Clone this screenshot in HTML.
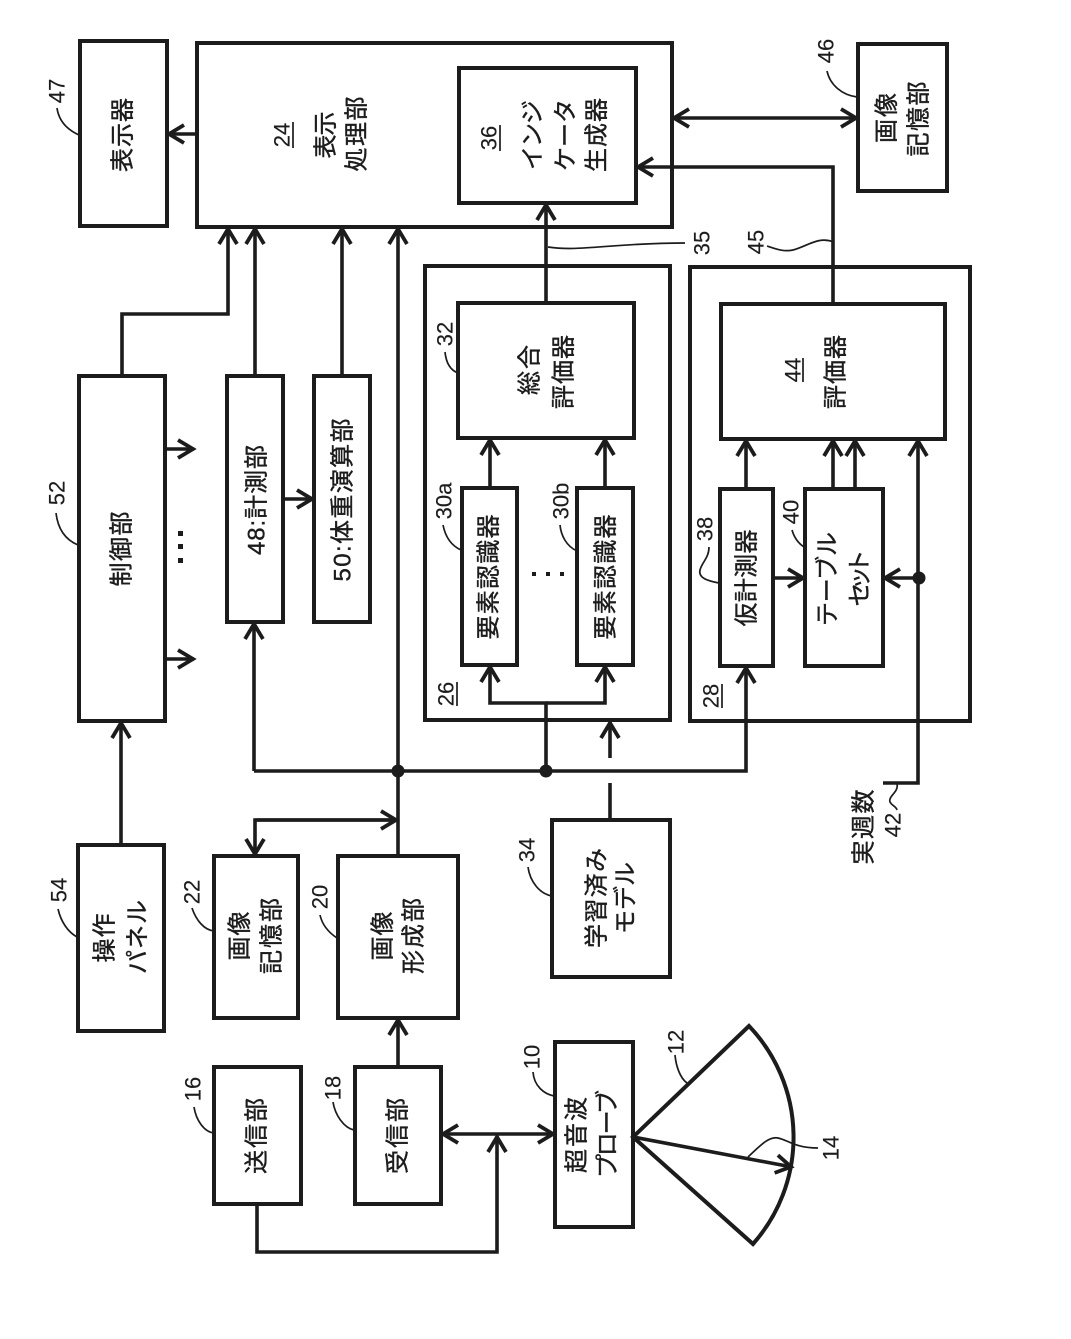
<!DOCTYPE html>
<html lang="ja"><head><meta charset="utf-8"><title>Diagram</title>
<style>
html,body{margin:0;padding:0;background:#fff}
svg{display:block}
text{font-family:"Liberation Sans","Noto Sans CJK JP",sans-serif;fill:#1c1c1c;text-anchor:middle;dominant-baseline:central}
.j{font-size:24px;stroke:#1c1c1c;stroke-width:.4}
.n{font-size:22px;stroke:#1c1c1c;stroke-width:.15}
.b{fill:#fff;stroke:#1c1c1c;stroke-width:4}
.l{fill:none;stroke:#1c1c1c;stroke-width:3.6}
.t{fill:none;stroke:#1c1c1c;stroke-width:1.7}
</style></head>
<body>
<svg width="1071" height="1339" viewBox="0 0 1071 1339" xmlns="http://www.w3.org/2000/svg">
<defs>
<marker id="a" markerUnits="userSpaceOnUse" markerWidth="24" markerHeight="26" refX="20" refY="13" orient="auto-start-reverse"><path d="M4 4 L19 13 L4 22" fill="none" stroke="#1c1c1c" stroke-width="3.8"/></marker>
</defs>
<rect width="1071" height="1339" fill="#fff"/>

<!-- boxes -->
<rect class="b" x="80" y="41" width="87" height="185"/>
<rect class="b" x="197" y="43" width="475" height="184"/>
<rect class="b" x="459" y="68" width="177" height="135"/>
<rect class="b" x="858" y="44" width="89" height="147"/>
<rect class="b" x="425" y="266" width="245" height="454"/>
<rect class="b" x="690" y="267" width="280" height="454"/>
<rect class="b" x="458" y="303" width="176" height="135"/>
<rect class="b" x="721" y="304" width="224" height="135"/>
<rect class="b" x="462" y="488" width="55" height="177"/>
<rect class="b" x="577" y="488" width="56" height="177"/>
<rect class="b" x="720" y="489" width="53" height="177"/>
<rect class="b" x="805" y="489" width="78" height="177"/>
<rect class="b" x="79" y="376" width="86" height="345"/>
<rect class="b" x="227" y="376" width="56" height="246"/>
<rect class="b" x="314" y="376" width="56" height="246"/>
<rect class="b" x="78" y="845" width="86" height="186"/>
<rect class="b" x="214" y="856" width="84" height="162"/>
<rect class="b" x="338" y="856" width="120" height="162"/>
<rect class="b" x="552" y="820" width="118" height="157"/>
<rect class="b" x="214" y="1067" width="87" height="137"/>
<rect class="b" x="355" y="1067" width="86" height="137"/>
<rect class="b" x="555" y="1042" width="78" height="185"/>

<!-- connectors -->
<path class="l" d="M197 134H168" marker-end="url(#a)"/>
<path class="l" d="M122 376V314H228V228" marker-end="url(#a)"/>
<path class="l" d="M255 376V228" marker-end="url(#a)"/>
<path class="l" d="M342 376V228" marker-end="url(#a)"/>
<path class="l" d="M398 856V228" marker-end="url(#a)"/>
<path class="l" d="M546 303V204" marker-end="url(#a)"/>
<path class="l" d="M833 304V167H637" marker-end="url(#a)"/>
<path class="l" d="M673 118H857" marker-start="url(#a)" marker-end="url(#a)"/>
<path class="l" d="M165 449H194" marker-end="url(#a)"/>
<path class="l" d="M165 659H194" marker-end="url(#a)"/>
<path class="l" d="M283 499H313" marker-end="url(#a)"/>
<path class="l" d="M121 845V722" marker-end="url(#a)"/>
<path class="l" d="M254 771V623" marker-end="url(#a)"/>
<path class="l" d="M254 771H746V667" marker-end="url(#a)"/>
<path class="l" d="M546 771V703H490V666" marker-end="url(#a)"/>
<path class="l" d="M546 703H605V666" marker-end="url(#a)"/>
<path class="l" d="M610 820V783"/>
<path class="l" d="M610 758V722" marker-end="url(#a)"/>
<path class="l" d="M490 488V439" marker-end="url(#a)"/>
<path class="l" d="M605 488V439" marker-end="url(#a)"/>
<path class="l" d="M746 489V440" marker-end="url(#a)"/>
<path class="l" d="M833 489V440" marker-end="url(#a)"/>
<path class="l" d="M855 489V440" marker-end="url(#a)"/>
<path class="l" d="M883 783H918V440" marker-end="url(#a)"/>
<path class="l" d="M918 578H884" marker-end="url(#a)"/>
<path class="l" d="M773 578H804" marker-end="url(#a)"/>
<path class="l" d="M397 820H255V855" marker-end="url(#a)"/>
<path class="l" d="M255 820H397" marker-end="url(#a)"/>
<path class="l" d="M398 1067V1019" marker-end="url(#a)"/>
<path class="l" d="M442 1134H554" marker-start="url(#a)" marker-end="url(#a)"/>
<path class="l" d="M257 1204V1252H497V1136" marker-end="url(#a)"/>
<circle cx="398" cy="771" r="6.5" fill="#1c1c1c"/>
<circle cx="546" cy="771" r="6.5" fill="#1c1c1c"/>
<circle cx="919" cy="578" r="6.5" fill="#1c1c1c"/>
<rect x="178" y="531" width="5" height="5" fill="#1c1c1c"/><rect x="178" y="544" width="5" height="5" fill="#1c1c1c"/><rect x="178" y="558" width="5" height="5" fill="#1c1c1c"/>
<rect x="532" y="572" width="4" height="4" fill="#1c1c1c"/><rect x="546" y="572" width="4" height="4" fill="#1c1c1c"/><rect x="560" y="572" width="4" height="4" fill="#1c1c1c"/>

<!-- sector -->
<path d="M749 1026L633 1137L753 1244A161 161 0 0 0 749 1026Z" fill="none" stroke="#1c1c1c" stroke-width="4"/>
<path class="l" d="M633 1137L792 1167" stroke-width="4.4" marker-end="url(#a)"/>

<!-- leaders -->
<g class="t">
<path class="t" d="M79 135C68 130 59 122 57 108"/>
<path class="t" d="M78 545C66 540 58 530 56 513"/>
<path class="t" d="M77 937C68 932 61 922 58 909"/>
<path class="t" d="M214 931C204 930 196 920 192 908"/>
<path class="t" d="M337 938C328 932 322 924 320 915"/>
<path class="t" d="M214 1133C204 1132 196 1120 194 1107"/>
<path class="t" d="M354 1130C344 1128 335 1115 333 1102"/>
<path class="t" d="M552 896C540 894 530 882 528 867"/>
<path class="t" d="M554 1096C544 1094 534 1086 533 1072"/>
<path class="t" d="M687 1083C680 1078 676 1066 675 1055"/>
<path class="t" d="M748 1157C758 1148 768 1136 778 1138C788 1140 795 1148 818 1148"/>
<path class="t" d="M548 247C580 252 610 243 685 243"/>
<path class="t" d="M834 242C818 236 808 246 793 250C784 252 776 249 767 246"/>
<path class="t" d="M857 97C842 95 830 85 827 71"/>
<path class="t" d="M458 373C450 370 446 362 445 352"/>
<path class="t" d="M461 550C450 545 445 535 443 525"/>
<path class="t" d="M577 551C566 546 561 535 560 525"/>
<path class="t" d="M719 583C708 581 698 578 700 570C702 562 709 558 709 547"/>
<path class="t" d="M804 547C798 543 794 537 792 530"/>
<path class="t" d="M897 784C899 792 888 796 890 802C892 806 896 806 897 810"/>
</g>

<!-- numbers -->
<g>
<text class="n" transform="translate(57,91) rotate(-90)">47</text>
<text class="n" transform="translate(282,135) rotate(-90)">24</text>
<text class="n" transform="translate(489,138) rotate(-90)">36</text>
<text class="n" transform="translate(826,51) rotate(-90)">46</text>
<text class="n" transform="translate(702,243) rotate(-90)">35</text>
<text class="n" transform="translate(756,242) rotate(-90)">45</text>
<text class="n" transform="translate(445,334) rotate(-90)">32</text>
<text class="n" transform="translate(793,370) rotate(-90)">44</text>
<text class="n" transform="translate(444,501) rotate(-90)">30a</text>
<text class="n" transform="translate(561,501) rotate(-90)">30b</text>
<text class="n" transform="translate(705,529) rotate(-90)">38</text>
<text class="n" transform="translate(791,512) rotate(-90)">40</text>
<text class="n" transform="translate(446,694) rotate(-90)">26</text>
<text class="n" transform="translate(711,696) rotate(-90)">28</text>
<text class="n" transform="translate(57,493) rotate(-90)">52</text>
<text class="n" transform="translate(59,890) rotate(-90)">54</text>
<text class="n" transform="translate(192,892) rotate(-90)">22</text>
<text class="n" transform="translate(320,897) rotate(-90)">20</text>
<text class="n" transform="translate(193,1089) rotate(-90)">16</text>
<text class="n" transform="translate(333,1088) rotate(-90)">18</text>
<text class="n" transform="translate(527,850) rotate(-90)">34</text>
<text class="n" transform="translate(532,1057) rotate(-90)">10</text>
<text class="n" transform="translate(676,1042) rotate(-90)">12</text>
<text class="n" transform="translate(831,1148) rotate(-90)">14</text>
<text class="n" transform="translate(893,825) rotate(-90)">42</text>
</g>
<path class="t" d="M293 122V148M500 125V151M803 358V382M457 682V706M722 684V708" stroke-width="2"/>

<!-- labels -->
<g>
<text class="j" transform="translate(123,135) rotate(-90)" textLength="74">表示器</text>
<text class="j" transform="translate(326,135) rotate(-90)" textLength="47">表示</text>
<text class="j" transform="translate(357,134) rotate(-90)" textLength="75">処理部</text>
<text class="j" transform="translate(533,135) rotate(-90)" textLength="70">インジ</text>
<text class="j" transform="translate(566,135) rotate(-90)" textLength="72">ケータ</text>
<text class="j" transform="translate(597,135) rotate(-90)" textLength="74">生成器</text>
<text class="j" transform="translate(887,118) rotate(-90)" textLength="50">画像</text>
<text class="j" transform="translate(919,119) rotate(-90)" textLength="75">記憶部</text>
<text class="j" transform="translate(530,370) rotate(-90)" textLength="50">総合</text>
<text class="j" transform="translate(564,372) rotate(-90)" textLength="74">評価器</text>
<text class="j" transform="translate(836,372) rotate(-90)" textLength="74">評価器</text>
<text class="j" transform="translate(489,577) rotate(-90)" textLength="125">要素認識器</text>
<text class="j" transform="translate(606,577) rotate(-90)" textLength="125">要素認識器</text>
<text class="j" transform="translate(747,578) rotate(-90)" textLength="97">仮計測器</text>
<text class="j" transform="translate(828,579) rotate(-90)" textLength="94">テーブル</text>
<text class="j" transform="translate(860,578) rotate(-90)" textLength="57">セット</text>
<text class="j" transform="translate(864,827) rotate(-90)" textLength="75">実週数</text>
<text class="j" transform="translate(122,549) rotate(-90)" textLength="75">制御部</text>
<text class="j" transform="translate(257,500) rotate(-90)" textLength="110">48:計測部</text>
<text class="j" transform="translate(343,500) rotate(-90)" textLength="163">50:体重演算部</text>
<text class="j" transform="translate(105,938) rotate(-90)" textLength="49">操作</text>
<text class="j" transform="translate(138,937) rotate(-90)" textLength="74">パネル</text>
<text class="j" transform="translate(240,936) rotate(-90)" textLength="49">画像</text>
<text class="j" transform="translate(272,936) rotate(-90)" textLength="76">記憶部</text>
<text class="j" transform="translate(383,936) rotate(-90)" textLength="49">画像</text>
<text class="j" transform="translate(414,936) rotate(-90)" textLength="76">形成部</text>
<text class="j" transform="translate(257,1136) rotate(-90)" textLength="76">送信部</text>
<text class="j" transform="translate(398,1136) rotate(-90)" textLength="76">受信部</text>
<text class="j" transform="translate(597,898) rotate(-90)" textLength="100">学習済み</text>
<text class="j" transform="translate(626,898) rotate(-90)" textLength="72">モデル</text>
<text class="j" transform="translate(577,1135) rotate(-90)" textLength="76">超音波</text>
<text class="j" transform="translate(608,1134) rotate(-90)" textLength="88">プローブ</text>
</g>
</svg>
</body></html>
